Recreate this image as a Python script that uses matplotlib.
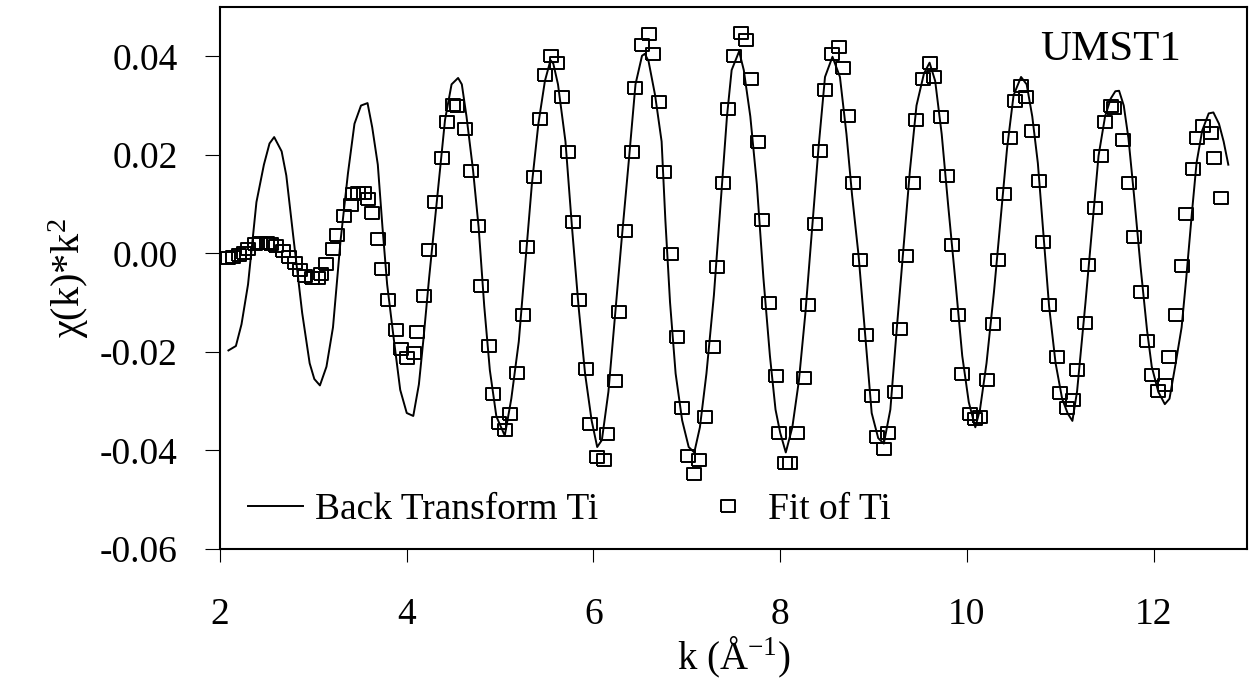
import matplotlib
matplotlib.use('Agg')
import matplotlib.pyplot as plt

# back transform (line)
k_line = [2.09, 2.17, 2.23, 2.30, 2.39, 2.47, 2.53, 2.58, 2.66, 2.71, 2.78, 2.88, 2.96, 3.01, 3.07,
          3.14, 3.21, 3.29, 3.37, 3.44, 3.51, 3.58, 3.63, 3.69, 3.74, 3.79, 3.86, 3.93, 4.00, 4.07,
          4.13, 4.18, 4.24, 4.29, 4.34, 4.41, 4.48, 4.55, 4.59, 4.64, 4.71, 4.77, 4.83, 4.89, 4.96,
          5.05, 5.12, 5.20, 5.27, 5.34, 5.41, 5.48, 5.54, 5.57, 5.62, 5.70, 5.77, 5.84, 5.91, 5.98,
          6.04, 6.09, 6.16, 6.23, 6.30, 6.38, 6.45, 6.52, 6.55, 6.59, 6.66, 6.73, 6.77, 6.82, 6.88,
          6.95, 7.02, 7.08, 7.14, 7.21, 7.29, 7.36, 7.43, 7.48, 7.56, 7.61, 7.68, 7.75, 7.82, 7.89,
          7.95, 8.00, 8.06, 8.13, 8.20, 8.27, 8.34, 8.41, 8.48, 8.56, 8.64, 8.71, 8.77, 8.84, 8.91,
          8.98, 9.05, 9.11, 9.18, 9.25, 9.32, 9.39, 9.46, 9.54, 9.60, 9.66, 9.73, 9.80, 9.88, 9.95,
          10.02, 10.09, 10.14, 10.21, 10.29, 10.36, 10.43, 10.50, 10.58, 10.64, 10.70, 10.76, 10.82,
          10.88, 10.95, 11.02, 11.08, 11.13, 11.18, 11.22, 11.27, 11.34, 11.41, 11.48, 11.54, 11.59,
          11.63, 11.68, 11.73, 11.79, 11.86, 11.93, 11.98, 12.05, 12.12, 12.17, 12.23, 12.30, 12.35,
          12.41, 12.46, 12.52, 12.59, 12.64, 12.70, 12.75, 12.80]
chi_line = [-0.0197, -0.0188, -0.0144, -0.0063, 0.0104, 0.0180, 0.0223, 0.0236, 0.0207, 0.0158,
            0.0042, -0.0121, -0.0223, -0.0255, -0.0268, -0.0230, -0.0150, 0.0024, 0.0162, 0.0263,
            0.0300, 0.0305, 0.0256, 0.0180, 0.0053, -0.0063, -0.0172, -0.0277, -0.0324, -0.0330,
            -0.0266, -0.0172, -0.0049, 0.0045, 0.0140, 0.0271, 0.0343, 0.0356, 0.0343, 0.0278,
            0.0169, 0.0053, -0.0107, -0.0237, -0.0331, -0.0370, -0.0295, -0.0179, -0.0020, 0.0140,
            0.0263, 0.0350, 0.0392, 0.0385, 0.0343, 0.0227, 0.0053, -0.0107, -0.0244, -0.0339,
            -0.0393, -0.0379, -0.0281, -0.0128, 0.0024, 0.0191, 0.0343, 0.0401, 0.0405, 0.0390,
            0.0321, 0.0227, 0.0068, -0.0099, -0.0244, -0.0339, -0.0393, -0.0404, -0.0353, -0.0244,
            -0.0085, 0.0096, 0.0278, 0.0372, 0.0410, 0.0372, 0.0278, 0.0140, -0.0049, -0.0208,
            -0.0317, -0.0364, -0.0404, -0.0353, -0.0259, -0.0121, 0.0046, 0.0213, 0.0358, 0.0399,
            0.0358, 0.0242, 0.0118, -0.0005, -0.0165, -0.0324, -0.0375, -0.0386, -0.0317, -0.0150,
            0.0009, 0.0169, 0.0300, 0.0365, 0.0387, 0.0350, 0.0242, 0.0096, -0.0063, -0.0208,
            -0.0302, -0.0353, -0.0317, -0.0223, -0.0078, 0.0067, 0.0213, 0.0321, 0.0358, 0.0343,
            0.0278, 0.0183, 0.0038, -0.0107, -0.0223, -0.0295, -0.0325, -0.0340, -0.0280, -0.0200,
            -0.0100, 0.0050, 0.0198, 0.0278, 0.0314, 0.0329, 0.0330, 0.0300, 0.0234, 0.0118,
            -0.0027, -0.0157, -0.0230, -0.0281, -0.0306, -0.0295, -0.0230, -0.0150, -0.0049,
            0.0082, 0.0184, 0.0249, 0.0284, 0.0286, 0.0263, 0.0227, 0.0180]

# fit (open squares)
k_fit = [2.09, 2.14, 2.20, 2.26, 2.30, 2.37, 2.43, 2.50, 2.55, 2.60, 2.67, 2.74, 2.80, 2.86, 2.91,
         2.98, 3.05, 3.08, 3.13, 3.21, 3.25, 3.33, 3.40, 3.42, 3.48, 3.54, 3.59, 3.63, 3.69, 3.74,
         3.80, 3.88, 3.94, 4.00, 4.08, 4.11, 4.18, 4.24, 4.30, 4.38, 4.43, 4.50, 4.54, 4.62, 4.69,
         4.76, 4.80, 4.88, 4.92, 4.99, 5.05, 5.11, 5.18, 5.24, 5.29, 5.36, 5.43, 5.48, 5.55, 5.61,
         5.66, 5.73, 5.78, 5.85, 5.92, 5.96, 6.04, 6.11, 6.15, 6.23, 6.27, 6.34, 6.41, 6.45, 6.52,
         6.60, 6.64, 6.70, 6.76, 6.83, 6.90, 6.95, 7.01, 7.08, 7.13, 7.20, 7.28, 7.32, 7.39, 7.44,
         7.51, 7.58, 7.63, 7.69, 7.76, 7.81, 7.88, 7.95, 7.99, 8.05, 8.11, 8.18, 8.25, 8.30, 8.37,
         8.43, 8.48, 8.55, 8.63, 8.67, 8.73, 8.78, 8.85, 8.92, 8.98, 9.04, 9.11, 9.16, 9.23, 9.28,
         9.35, 9.42, 9.46, 9.53, 9.61, 9.65, 9.72, 9.79, 9.84, 9.90, 9.95, 10.03, 10.09, 10.14,
         10.21, 10.28, 10.33, 10.40, 10.46, 10.52, 10.58, 10.63, 10.70, 10.77, 10.81, 10.88, 10.96,
         11.00, 11.07, 11.14, 11.18, 11.26, 11.30, 11.37, 11.44, 11.48, 11.54, 11.58, 11.67, 11.74,
         11.79, 11.86, 11.93, 11.98, 12.05, 12.12, 12.17, 12.24, 12.30, 12.35, 12.42, 12.46, 12.53,
         12.61, 12.65, 12.72]
chi_fit = [-0.0010, -0.0007, -0.0004, 0.0000, 0.0009, 0.0018, 0.0022, 0.0021, 0.0018, 0.0015,
           0.0004, -0.0007, -0.0020, -0.0034, -0.0046, -0.0050, -0.0050, -0.0041, -0.0021, 0.0008,
           0.0037, 0.0075, 0.0098, 0.0120, 0.0123, 0.0122, 0.0110, 0.0082, 0.0030, -0.0032,
           -0.0094, -0.0156, -0.0195, -0.0212, -0.0202, -0.0159, -0.0086, 0.0006, 0.0104, 0.0194,
           0.0267, 0.0301, 0.0300, 0.0252, 0.0168, 0.0056, -0.0067, -0.0187, -0.0286, -0.0345,
           -0.0359, -0.0326, -0.0242, -0.0125, 0.0012, 0.0154, 0.0273, 0.0361, 0.0401, 0.0387,
           0.0318, 0.0205, 0.0063, -0.0094, -0.0234, -0.0347, -0.0413, -0.0420, -0.0366, -0.0260,
           -0.0118, 0.0045, 0.0205, 0.0336, 0.0423, 0.0445, 0.0405, 0.0307, 0.0165, -0.0002,
           -0.0169, -0.0314, -0.0412, -0.0448, -0.0419, -0.0332, -0.0191, -0.0028, 0.0143, 0.0292,
           0.0400, 0.0448, 0.0434, 0.0353, 0.0226, 0.0067, -0.0100, -0.0249, -0.0365, -0.0426,
           -0.0426, -0.0365, -0.0252, -0.0104, 0.0059, 0.0208, 0.0331, 0.0404, 0.0419, 0.0376,
           0.0278, 0.0143, -0.0013, -0.0165, -0.0289, -0.0372, -0.0397, -0.0365, -0.0281, -0.0154,
           -0.0006, 0.0143, 0.0270, 0.0353, 0.0386, 0.0357, 0.0277, 0.0157, 0.0016, -0.0125,
           -0.0245, -0.0325, -0.0336, -0.0332, -0.0256, -0.0144, -0.0013, 0.0121, 0.0234, 0.0310,
           0.0339, 0.0317, 0.0248, 0.0147, 0.0023, -0.0105, -0.0211, -0.0283, -0.0313, -0.0298,
           -0.0237, -0.0142, -0.0024, 0.0092, 0.0197, 0.0266, 0.0300, 0.0295, 0.0230, 0.0143,
           0.0034, -0.0078, -0.0177, -0.0246, -0.0279, -0.0267, -0.0210, -0.0126, -0.0025, 0.0080,
           0.0172, 0.0234, 0.0258, 0.0244, 0.0194, 0.0113]

x_ticks = [2, 4, 6, 8, 10, 12]
y_ticks = [-0.06, -0.04, -0.02, 0.00, 0.02, 0.04]

plt.rcParams['font.family'] = ['Liberation Serif', 'DejaVu Serif']
plt.rcParams['mathtext.fontset'] = 'custom'
plt.rcParams['mathtext.rm'] = 'Liberation Serif'
plt.rcParams['mathtext.it'] = 'Liberation Serif:italic'
plt.rcParams['axes.unicode_minus'] = False

fig = plt.figure(figsize=(12.53, 6.86), dpi=100)
ax = fig.add_axes([0.1756, 0.1997, 0.8196, 0.7901])

box = [(-6, -5), (6, -5), (6, 5), (-6, 5), (-6, -5)]
ax.plot(k_line, chi_line, color='black', lw=1.4, label='Back Transform Ti')
ax.plot(k_fit, chi_fit, ls='none', marker=box, ms=10.5, mfc='none', mec='black',
        mew=1.4, label='Fit of Ti')

ax.set_xlim(2, 13)
ax.set_ylim(-0.06, 0.05)
ax.set_xticks(x_ticks)
ax.set_xticklabels([str(t) for t in x_ticks])
ax.set_yticks(y_ticks)
ax.set_yticklabels(['%.2f' % t if t != 0 else '0.00' for t in y_ticks])

for s in ax.spines.values():
    s.set_linewidth(1.5)
ax.tick_params(axis='y', direction='out', length=10.5, width=0.8, pad=20, labelsize=27)
ax.tick_params(axis='x', direction='out', length=9, width=0.8, pad=26, labelsize=27)

ax.set_xlabel('k (Å$^{\\mathrm{-1}}$)', fontsize=28, labelpad=2)
ax.set_ylabel('χ(k)*k$^{2}$', fontsize=29, labelpad=6)

ax.text(0.867, 0.902, 'UMST1', transform=ax.transAxes, fontsize=31,
        ha='center', va='baseline')

ax.legend(loc='center left', bbox_to_anchor=(0.0273, 0.072), ncol=2, frameon=False,
          fontsize=27, handlelength=1.47, handletextpad=0.32, columnspacing=2.73,
          borderpad=0, borderaxespad=0)

fig.savefig('out.png', dpi=100)
